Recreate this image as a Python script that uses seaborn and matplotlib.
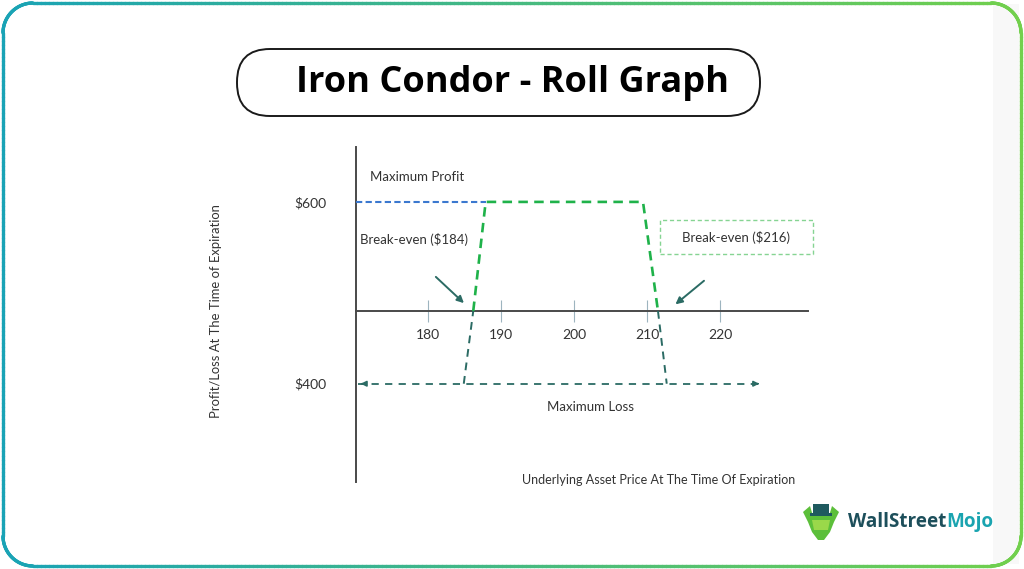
import numpy as np
import pandas as pd
import matplotlib
matplotlib.use("Agg")
import matplotlib.pyplot as plt
import seaborn as sns
from matplotlib.patches import FancyBboxPatch, Rectangle, Polygon
from matplotlib.collections import LineCollection

# ---------------- data ----------------
profit_price = [186.2, 187.9, 209.45, 211.5]      # green payoff segment (above zero)
profit_value = [0, 600, 600, 0]
loss_left_price = [184.9, 186.2]                  # teal payoff legs (below zero)
loss_left_value = [-400, 0]
loss_right_price = [211.5, 212.7]
loss_right_value = [0, -400]
max_profit_price = [170.14, 187.9]                # blue max-profit guide
max_profit_value = [600, 600]
max_loss_price = [170.4, 225.75]                  # max-loss guide (double arrow)
max_loss_value = -400
x_ticks = [180, 190, 200, 210, 220]
y_ticks = [600, -400]
y_tick_labels = ["$600", "$400"]
be_left_arrow = [(180.8, 198), (185.2, 33)]       # (from, to)
be_right_arrow = [(218.1, 176), (213.6, 27)]

W, H = 1024, 569
sns.set_theme(style="white")
plt.rcParams["font.family"] = ["Lato", "DejaVu Sans"]
fig = plt.figure(figsize=(W / 100, H / 100), dpi=100)

# ---------------- background / decoration layer (pixel coords) ----------------
bg = fig.add_axes([0, 0, 1, 1])
bg.set_xlim(0, W)
bg.set_ylim(H, 0)
bg.axis("off")
bg.add_patch(Rectangle((993, 4), 26, 560, color="#f8f8f8", lw=0, zorder=0))

# gradient rounded border
r = 30
x0, y0, x1, y1 = 3, 3, W - 3, H - 3
pts = []
def arc(cx, cy, a0, a1):
    t = np.linspace(np.radians(a0), np.radians(a1), 30)
    return list(zip(cx + r * np.cos(t), cy + r * np.sin(t)))
pts += arc(x0 + r, y0 + r, 180, 270)
pts += arc(x1 - r, y0 + r, 270, 360)
pts += arc(x1 - r, y1 - r, 0, 90)
pts += arc(x0 + r, y1 - r, 90, 180)
pts.append(pts[0])
dense = []
for (ax_, ay_), (bx_, by_) in zip(pts[:-1], pts[1:]):
    n = max(2, int(np.hypot(bx_ - ax_, by_ - ay_) / 4))
    for k in range(n):
        dense.append((ax_ + (bx_ - ax_) * k / n, ay_ + (by_ - ay_) * k / n))
dense.append(pts[0])
dense = np.array(dense)
segs = np.stack([dense[:-1], dense[1:]], axis=1)
c0 = np.array(matplotlib.colors.to_rgb("#19a3b6"))
c1 = np.array(matplotlib.colors.to_rgb("#72d04c"))
tx = (segs[:, :, 0].mean(axis=1) / W)[:, None]
cols = c0 * (1 - tx) + c1 * tx
bg.add_collection(LineCollection(segs, colors=cols, linewidths=2.4, capstyle="round"))

# title pill
bg.add_patch(FancyBboxPatch((237, 49), 523, 67,
                            boxstyle="round,pad=0,rounding_size=33",
                            fc="white", ec="#1a1a1a", lw=1.4))
bg.text(512, 83, "Iron Condor - Roll Graph", ha="center", va="center",
        fontsize=26, fontweight="bold", color="black",
        family=["Open Sans", "DejaVu Sans"])

# logo
bg.add_patch(Polygon([(803, 512), (810, 506), (813, 516), (829, 516), (832, 506),
                      (839, 512), (834, 522), (830, 532), (824, 540), (818, 540),
                      (812, 532), (808, 522)], closed=True, fc="#5cbf3a", ec="none"))
bg.add_patch(Rectangle((813, 504), 16, 10, fc="#1f5a5f", ec="none"))
bg.add_patch(Rectangle((810, 513), 22, 3, fc="#1f5a5f", ec="none"))
bg.add_patch(Polygon([(812, 520), (830, 520), (828, 530), (814, 530)], closed=True,
                     fc="#9ad84a", ec="none"))
t1 = bg.text(848, 522, "WallStreet", ha="left", va="center", fontsize=13.6,
             fontweight="bold", color="#1d4f5b", family=["Open Sans", "DejaVu Sans"])
fig.canvas.draw()
bb = t1.get_window_extent()
bg.text(bb.x1, 522, "Mojo", ha="left", va="center", fontsize=13.6,
        fontweight="bold", color="#1aa4b0", family=["Open Sans", "DejaVu Sans"])

# ---------------- main chart axes ----------------
ax = fig.add_axes([356 / W, 1 - 482 / H, 452 / W, 335 / H])
ax.set_facecolor("none")
ax.set_xlim(170.14, 232.05)
ax.set_ylim(-940.5, 902)

green = "#1fb24a"
teal = "#2b6b64"
blue = "#3b78cf"

df_p = pd.DataFrame({"price": profit_price, "pl": profit_value})
sns.lineplot(data=df_p, x="price", y="pl", ax=ax, sort=False, color=green,
             lw=1.9, linestyle=(0, (3.6, 2.4)), zorder=4)
for xs, ys in [(loss_left_price, loss_left_value), (loss_right_price, loss_right_value)]:
    sns.lineplot(x=xs, y=ys, ax=ax, sort=False, color=teal, lw=1.4,
                 linestyle=(0, (4, 3)), zorder=4)
sns.lineplot(x=max_profit_price, y=max_profit_value, ax=ax, color=blue, lw=1.5,
             linestyle=(0, (3, 1.6)), zorder=3)
sns.lineplot(x=max_loss_price, y=[max_loss_value] * 2, ax=ax, color=teal, lw=1.3,
             linestyle=(0, (4, 3.5)), zorder=3)
ax.annotate("", xy=(max_loss_price[0], max_loss_value), xytext=(max_loss_price[0] + 1, max_loss_value),
            arrowprops=dict(arrowstyle="-|>", color=teal, lw=1.2, mutation_scale=8))
ax.annotate("", xy=(max_loss_price[1], max_loss_value), xytext=(max_loss_price[1] - 1, max_loss_value),
            arrowprops=dict(arrowstyle="-|>", color=teal, lw=1.2, mutation_scale=8))

for (src, dst) in [be_left_arrow, be_right_arrow]:
    ax.annotate("", xy=dst, xytext=src,
                arrowprops=dict(arrowstyle="-|>", color=teal, lw=1.4, mutation_scale=10))

# spines
for s in ["top", "right"]:
    ax.spines[s].set_visible(False)
ax.spines["left"].set_color("#4a4a4a")
ax.spines["left"].set_linewidth(1.4)
ax.spines["bottom"].set_position(("data", 0))
ax.spines["bottom"].set_color("#4a4a4a")
ax.spines["bottom"].set_linewidth(1.4)

ax.set_xticks(x_ticks)
ax.set_xticklabels([str(v) for v in x_ticks])
ax.tick_params(axis="x", direction="inout", length=16, width=0.8, color="#9db4bf",
               pad=5, labelsize=10, labelcolor="#333333", bottom=True)
ax.set_yticks(y_ticks)
ax.set_yticklabels(y_tick_labels)
ax.tick_params(axis="y", length=0, pad=21, labelsize=10, labelcolor="#333333")

ax.set_ylabel("Profit/Loss At The Time of Expiration", fontsize=9.4, color="#333333")
ax.yaxis.set_label_coords(-0.296, 0.51)
ax.set_xlabel("Underlying Asset Price At The Time Of Expiration", fontsize=9.0, color="#333333")
ax.xaxis.set_label_coords(0.67, 0.024)

txt_kw = dict(fontsize=9.5, color="#333333")
ax.text(172.06, 737, "Maximum Profit", ha="left", va="center", **txt_kw)
ax.text(170.69, 396, "Break-even ($184)", ha="left", va="center", **txt_kw)
ax.text(202.2, -528, "Maximum Loss", ha="center", va="center", **txt_kw)
ax.text(222.2, 407, "Break-even ($216)", ha="center", va="center", **txt_kw)
ax.add_patch(Rectangle((211.78, 313.5), 20.96, 187, fill=False, ec="#86d493",
                       lw=1.0, linestyle=(0, (3, 2)), clip_on=False))

fig.savefig("out.png", dpi=100)
